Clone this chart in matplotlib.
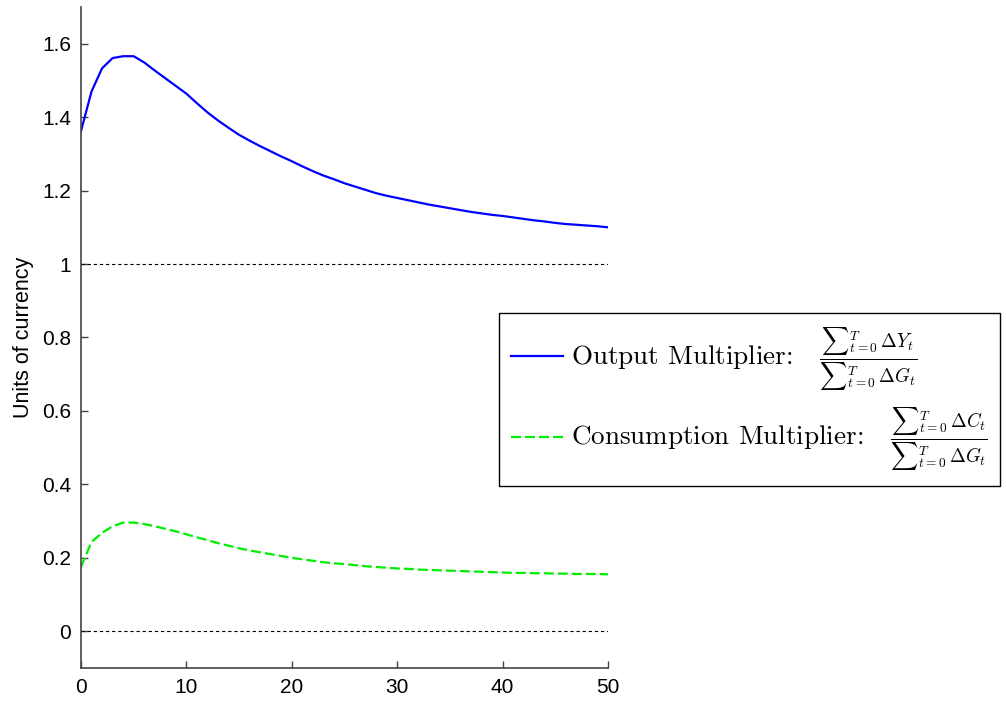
import matplotlib
matplotlib.use("Agg")
import matplotlib.pyplot as plt

periods = list(range(0, 51))
output_mult = [1.362, 1.470, 1.533, 1.561, 1.566, 1.566, 1.549, 1.527, 1.506, 1.485,
               1.464, 1.438, 1.413, 1.391, 1.371, 1.352, 1.336, 1.321, 1.307, 1.293,
               1.280, 1.266, 1.253, 1.241, 1.231, 1.220, 1.211, 1.202, 1.193, 1.186,
               1.180, 1.174, 1.168, 1.162, 1.157, 1.152, 1.147, 1.142, 1.138, 1.134,
               1.131, 1.127, 1.123, 1.119, 1.116, 1.112, 1.109, 1.107, 1.105, 1.103,
               1.100]
cons_mult = [0.175, 0.243, 0.268, 0.286, 0.296, 0.296, 0.292, 0.286, 0.279, 0.272,
             0.264, 0.256, 0.248, 0.240, 0.233, 0.226, 0.220, 0.215, 0.210, 0.205,
             0.200, 0.196, 0.192, 0.188, 0.185, 0.183, 0.180, 0.177, 0.175, 0.173,
             0.171, 0.170, 0.168, 0.167, 0.166, 0.165, 0.164, 0.163, 0.162, 0.161,
             0.160, 0.159, 0.159, 0.158, 0.158, 0.157, 0.157, 0.156, 0.156, 0.156,
             0.155]
ref_levels = [1.0, 0.0]
xticks = [0, 10, 20, 30, 40, 50]
yticks = [0, 0.2, 0.4, 0.6, 0.8, 1.0, 1.2, 1.4, 1.6]
ytick_labels = ["0", "0.2", "0.4", "0.6", "0.8", "1", "1.2", "1.4", "1.6"]
label_out = r"Output Multiplier:   $\frac{{\sum}_{t=0}^{T}\,\Delta Y_t}{{\sum}_{t=0}^{T}\,\Delta G_t}$"
label_cons = r"Consumption Multiplier:   $\frac{{\sum}_{t=0}^{T}\,\Delta C_t}{{\sum}_{t=0}^{T}\,\Delta G_t}$"

plt.rcParams["mathtext.fontset"] = "cm"
plt.rcParams["font.family"] = ["Liberation Sans", "DejaVu Sans"]

fig = plt.figure(figsize=(10.06, 7.01), dpi=100)
ax = fig.add_axes([0.0805, 0.0471, 0.5239, 0.9429])

for lvl in ref_levels:
    ax.plot([periods[0], periods[-1]], [lvl, lvl], color="black", lw=0.8,
            linestyle=(0, (3, 2.5)))
l1, = ax.plot(periods, output_mult, color="#0000ff", lw=1.6, label=label_out)
l2, = ax.plot(periods, cons_mult, color="#00ee00", lw=1.6, dashes=(4.5, 1.8),
              label=label_cons)

ax.set_xlim(0, 50)
ax.set_ylim(-0.1, 1.7)
ax.set_xticks(xticks)
ax.set_yticks(yticks)
ax.set_yticklabels(ytick_labels)
ax.tick_params(direction="in", length=5, width=1, colors="#444444",
               labelcolor="black", labelsize=15, pad=7)
for s in ["top", "right"]:
    ax.spines[s].set_visible(False)
for s in ["left", "bottom"]:
    ax.spines[s].set_color("#444444")
    ax.spines[s].set_linewidth(1.2)
ax.set_ylabel("Units of currency", fontsize=15.5, labelpad=6)

leg = fig.legend(handles=[l1, l2], loc="upper left",
                 bbox_to_anchor=(0.496, 0.5535), borderaxespad=0,
                 prop={"family": "cmr10", "size": 19.5},
                 frameon=True, fancybox=False, edgecolor="black",
                 framealpha=1, handlelength=1.9, handletextpad=0.3,
                 labelspacing=0.45, borderpad=0.45)
leg.get_frame().set_linewidth(1.0)

fig.savefig("out.png", dpi=100)
